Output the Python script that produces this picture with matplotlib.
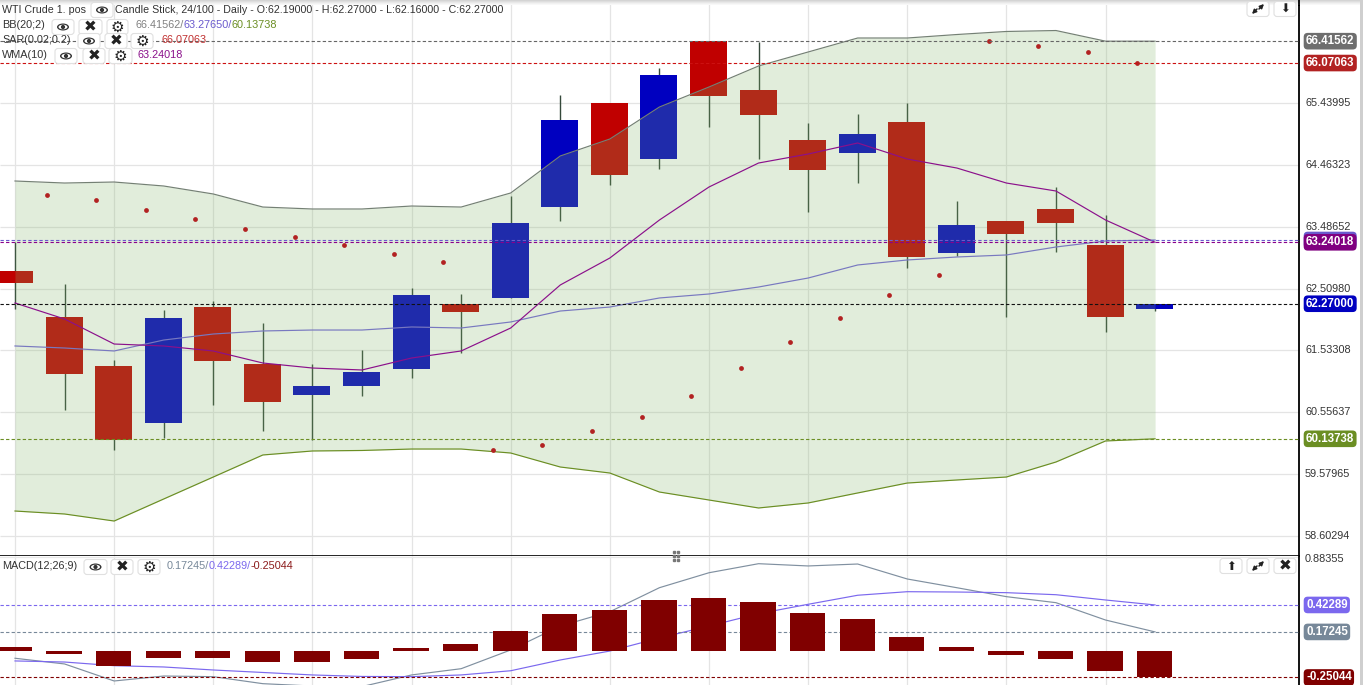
import matplotlib
matplotlib.use("Agg")
import matplotlib.pyplot as plt
from matplotlib.patches import FancyBboxPatch, Ellipse, Circle

plt.rcParams['font.family'] = ['Liberation Sans', 'DejaVu Sans']

# price data
opens = [62.787, 62.061, 61.287, 60.387, 62.218, 61.318, 60.829, 60.971, 61.239, 62.266, 62.361, 63.797,
         65.440, 64.555, 66.419, 65.645, 64.855, 64.650, 65.140, 63.071, 63.576, 63.766, 63.197, 62.19]
closes = [62.597, 61.161, 60.118, 62.045, 61.366, 60.718, 60.971, 61.192, 62.408, 62.140, 63.545, 65.171,
          64.303, 65.882, 65.550, 65.250, 64.382, 64.950, 63.008, 63.513, 63.371, 63.545, 62.061, 62.27]
highs = [63.245, 62.582, 61.382, 62.171, 62.313, 61.966, 61.318, 61.539, 62.518, 62.424, 63.971, 65.566,
         65.440, 65.992, 66.419, 66.403, 65.124, 65.266, 65.440, 63.892, 63.576, 64.113, 63.671, 62.27]
lows = [62.187, 60.592, 59.960, 60.150, 60.671, 60.261, 60.118, 60.813, 61.097, 61.492, 62.361, 63.576,
        64.145, 64.397, 65.061, 64.555, 63.719, 64.176, 62.834, 63.024, 62.061, 63.087, 61.824, 62.16]

bb_upper = [64.208, 64.176, 64.192, 64.129, 64.003, 63.797, 63.766, 63.766, 63.813, 63.797, 64.019, 64.603,
            64.871, 65.376, 65.692, 66.024, 66.245, 66.466, 66.466, 66.521, 66.569, 66.584, 66.416, 66.41562]
bb_mid = [61.603, 61.571, 61.524, 61.697, 61.792, 61.840, 61.855, 61.855, 61.903, 61.887, 61.982, 62.155,
          62.218, 62.361, 62.424, 62.534, 62.676, 62.882, 62.961, 63.008, 63.040, 63.166, 63.261, 63.2765]
bb_lower = [58.997, 58.950, 58.839, 59.187, 59.534, 59.882, 59.945, 59.953, 59.976, 59.976, 59.913, 59.692,
            59.597, 59.297, 59.171, 59.045, 59.124, 59.282, 59.439, 59.487, 59.534, 59.771, 60.103, 60.13738]
wma = [62.282, 62.029, 61.634, 61.603, 61.524, 61.334, 61.255, 61.224, 61.413, 61.524, 61.887, 62.566,
       62.992, 63.592, 64.113, 64.492, 64.634, 64.808, 64.555, 64.413, 64.176, 64.050, 63.592, 63.24018]
# sar has no value for the first candle
sar = [63.987, 63.908, 63.750, 63.608, 63.450, 63.324, 63.197, 63.055, 62.929, 59.960, 60.039, 60.261,
       60.482, 60.813, 61.255, 61.666, 62.045, 62.408, 62.724, 66.419, 66.340, 66.245, 66.07063]

macd_hist = [0.032, -0.035, -0.141, -0.072, -0.072, -0.107, -0.104, -0.082, 0.020, 0.060, 0.178, 0.342,
             0.373, 0.472, 0.487, 0.453, 0.348, 0.295, 0.123, 0.032, -0.042, -0.076, -0.190, -0.25044]
macd_line = [-0.072, -0.125, -0.283, -0.237, -0.243, -0.308, -0.330, -0.335, -0.227, -0.169, 0.005, 0.227,
             0.360, 0.583, 0.722, 0.806, 0.785, 0.803, 0.664, 0.583, 0.500, 0.444, 0.283, 0.17245]
macd_signal = [-0.097, -0.107, -0.141, -0.153, -0.181, -0.204, -0.227, -0.241, -0.243, -0.227, -0.188, -0.088,
               -0.005, 0.116, 0.227, 0.342, 0.429, 0.513, 0.546, 0.543, 0.537, 0.518, 0.469, 0.42289]

price_ticks = [65.43995, 64.46323, 63.48652, 62.50980, 61.53308, 60.55637, 59.57965, 58.60294]

W, H = 1363, 685
AXR = 1299
SPLIT = 555.5
FS = 7.85
idx = list(range(len(opens)))

fig = plt.figure(figsize=(W / 100, H / 100), dpi=100, facecolor='white')
ax = fig.add_axes([0, 1 - SPLIT / H, AXR / W, SPLIT / H])
ax2 = fig.add_axes([0, 0, AXR / W, 1 - SPLIT / H])

xlim = (-15 / 49.57, (AXR - 15) / 49.57)
ax.set_xlim(*xlim)
ax.set_ylim(67.066 - 0.01579 * SPLIT, 67.066)
ax2.set_xlim(*xlim)
ax2.set_ylim((650.5 - 685) / 107.7, (650.5 - SPLIT) / 107.7)

for a in (ax, ax2):
    a.set_xticks([])
    a.set_yticks([])
    for s in a.spines.values():
        s.set_visible(False)
    a.spines['right'].set_visible(True)
    a.spines['right'].set_linewidth(1.3)
    a.vlines(idx[::2], 0, 1, transform=a.get_xaxis_transform(), color='#e4e4e4', lw=0.9, zorder=1)
ax.spines['bottom'].set_visible(True)
ax.spines['bottom'].set_linewidth(1.2)

ax.hlines(price_ticks, *xlim, color='#e4e4e4', lw=0.9, zorder=1)
ax2.axhline(0.865, color='#e8e8e8', lw=0.9, zorder=1)

# candles sit under the band fill
colors = ['#0000c0' if c >= o else '#c00000' for o, c in zip(opens, closes)]
ax.vlines(idx, lows, highs, color='#34483a', lw=1, zorder=2)
ax.bar([i - 0.01 for i in idx], [abs(c - o) for o, c in zip(opens, closes)],
       bottom=[min(o, c) for o, c in zip(opens, closes)], width=0.746, color=colors, zorder=3)

ax.fill_between(idx, bb_lower, bb_upper, color='#85b76c', alpha=0.24, lw=0, zorder=4)
ax.plot(idx, bb_upper, color='#748074', lw=0.85, zorder=5)
ax.plot(idx, bb_mid, color='#7878c0', lw=0.85, zorder=5)
ax.plot(idx, bb_lower, color='#6b8e23', lw=0.85, zorder=5)
ax.plot(idx, wma, color='#8b108b', lw=0.85, zorder=6)
ax.scatter([i - 0.36 for i in idx[1:]], sar, s=12, color='#b22222', lw=0, zorder=6)


def last_value(a, value, line_c, badge_c):
    a.axhline(value, color=line_c, lw=0.8, dashes=(3, 2), zorder=7)
    a.text(1 + 7 / AXR, value, '%.5f' % value, transform=a.get_yaxis_transform(), color='white',
           fontsize=8.3, fontweight='bold', va='center', ha='left', clip_on=False, zorder=10,
           bbox=dict(boxstyle='round,pad=0.2,rounding_size=0.35', fc=badge_c, ec='none'))


last_value(ax, bb_upper[-1], '#666666', '#6e6e6e')
last_value(ax, sar[-1], '#cc1111', '#b22222')
last_value(ax, bb_mid[-1], '#6a5acd', '#6a5acd')
last_value(ax, wma[-1], '#8b008b', '#800080')
last_value(ax, closes[-1], '#111111', '#0000c0')
last_value(ax, bb_lower[-1], '#6b8e23', '#6b8e23')

for t in price_ticks:
    ax.text(1 + 6 / AXR, t, '%.5f' % t, transform=ax.get_yaxis_transform(), color='#333333',
            fontsize=FS, va='center', clip_on=False)
ax2.text(1 + 6 / AXR, 0.975, '0.88355', transform=ax2.transAxes, color='#333333', fontsize=FS, va='center',
         clip_on=False)

# macd panel, bars cover the lines
ax2.plot(idx, macd_line, color='#8090a0', lw=0.85, zorder=5)
ax2.plot(idx, macd_signal, color='#7b68ee', lw=0.85, zorder=5)
last_value(ax2, macd_signal[-1], '#7b68ee', '#7b68ee')
last_value(ax2, macd_line[-1], '#778899', '#778899')
last_value(ax2, macd_hist[-1], '#800000', '#800000')
ax2.bar([i - 0.01 for i in idx], macd_hist, width=0.71, color='#800000', zorder=8)

# page chrome in pixel coordinates
top = fig.add_axes([0, 0, 1, 1], facecolor='none')
top.set_xlim(0, W)
top.set_ylim(H, 0)
top.axis('off')
for i, c in enumerate(['#d4d4d4', '#dedede', '#e8e8e8', '#f1f1f1', '#f8f8f8']):
    top.axhspan(i, i + 1, color=c, lw=0, zorder=0)
top.axvspan(1360, W, color='#cfcfcf', lw=0, zorder=0)
top.vlines(AXR - 0.5, 0, 6, color='black', lw=1.3, zorder=1)


def button(x0, x1, y, kind):
    h = 15
    top.add_patch(FancyBboxPatch((x0 + 3, y - h / 2 + 3), x1 - x0 - 6, h - 6, boxstyle='round,pad=3',
                                 fc='white', ec='#e0e0e0', lw=0.8, zorder=8))
    cx = (x0 + x1) / 2
    if kind == 'eye':
        top.add_patch(Ellipse((cx, y), 12, 7, fc='#333333', ec='none', zorder=9))
        top.add_patch(Ellipse((cx, y), 9, 4.6, fc='white', ec='none', zorder=9))
        top.add_patch(Circle((cx, y), 2.1, fc='#333333', ec='none', zorder=9))
    elif kind == 'exp':
        # no installed font has this glyph
        arrow = dict(arrowstyle='-|>', color='#222222', lw=1.1, mutation_scale=6, shrinkA=0, shrinkB=0)
        top.annotate('', xy=(cx + 6, y - 5), xytext=(cx + 1, y), arrowprops=arrow, zorder=9)
        top.annotate('', xy=(cx - 6, y + 5), xytext=(cx - 1, y), arrowprops=arrow, zorder=9)
    else:
        sym = {'x': '\u2716', 'gear': '\u2699', 'up': '\u2b06', 'down': '\u2b07'}[kind]
        top.text(cx, y, sym, family='DejaVu Sans', fontsize={'x': 11, 'gear': 11}.get(kind, 8.5),
                 color='#222222', ha='center', va='center', zorder=9)


def label(x, y, s, c='#333333', fs=FS):
    top.text(x, y, s, color=c, fontsize=fs, va='center', ha='left', zorder=9)


label(2, 10, 'WTI Crude 1. pos', fs=7.7)
button(91, 113, 10, 'eye')
label(115, 10, 'Candle Stick, 24/100 - Daily - O:62.19000 - H:62.27000 - L:62.16000 - C:62.27000', fs=7.66)

label(2, 25, 'BB(20;2)')
for x0, x1, k in [(52, 74, 'eye'), (79, 102, 'x'), (107, 128, 'gear')]:
    button(x0, x1, 27, k)
label(136, 25, '66.41562/', '#808080')
label(184, 25, '63.27650/', '#6a5acd')
label(232, 25, '60.13738', '#6b8e23')

label(2, 40, 'SAR(0.02;0.2)')
for x0, x1, k in [(78, 100, 'eye'), (105, 127, 'x'), (131, 153, 'gear')]:
    button(x0, x1, 41, k)
label(161, 40, '66.07063', '#c03030')

label(2, 55, 'WMA(10)')
for x0, x1, k in [(55, 77, 'eye'), (83, 105, 'x'), (109, 132, 'gear')]:
    button(x0, x1, 56, k)
label(138, 55, '63.24018', '#8b108b')

label(2, 566, 'MACD(12;26;9)')
for x0, x1, k in [(84, 107, 'eye'), (111, 133, 'x'), (138, 160, 'gear')]:
    button(x0, x1, 567, k)
label(167, 566, '0.17245/', '#778899')
label(209, 566, '0.42289/', '#7b68ee')
label(251, 566, '-0.25044', '#8b1a1a')

button(1247, 1269, 9, 'exp')
button(1274, 1296, 9, 'down')
button(1220, 1242, 566, 'up')
button(1247, 1269, 566, 'exp')
button(1274, 1296, 566, 'x')

top.plot([674, 678] * 3, [552, 552, 556, 556, 560, 560], ls='none', marker='s', ms=1.6, color='#777777', zorder=9)

fig.savefig('out.png', dpi=100)
